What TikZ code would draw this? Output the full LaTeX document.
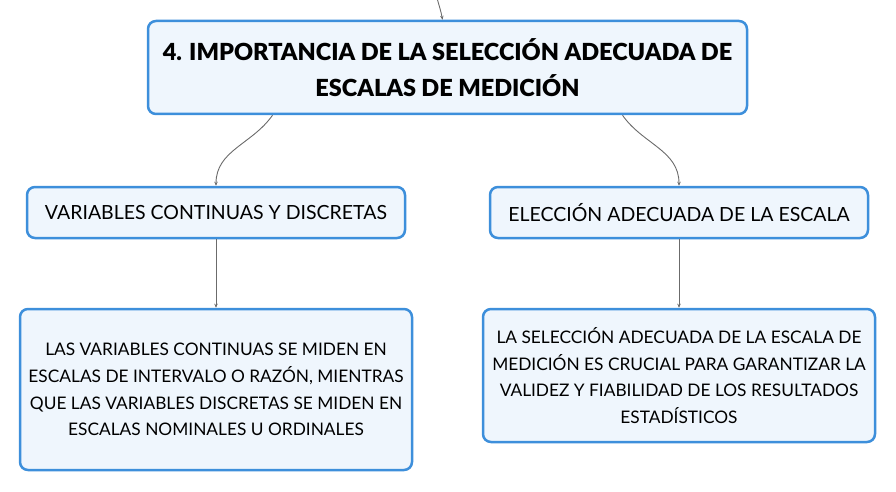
\documentclass[tikz,border=0pt]{standalone}
\usepackage{fontspec}
\setmainfont{Lato}[BoldFont=Lato Black]
\usetikzlibrary{arrows.meta}
\definecolor{boxblue}{HTML}{3D8FDB}
\definecolor{boxfill}{HTML}{EFF6FD}
\definecolor{linkgray}{HTML}{6B6B6B}
\tikzset{
  box/.style={draw=boxblue,fill=boxfill,line width=2.5pt,rounded corners=8pt,
    align=center,inner sep=0pt,font=\fontsize{17.3}{26.7}\selectfont},
  link/.style={draw=linkgray,line width=0.9pt,-{Stealth[length=4pt,width=3.5pt]}}
}
\begin{document}
\begin{tikzpicture}[x=1pt,y=1pt]
  \useasboundingbox (0,0) rectangle (896,-492);
  \node [box,minimum width=599pt,minimum height=93pt,
    font=\bfseries\fontsize{23.5}{36}\selectfont] (title) at (447.5,-67.5)
    {4. IMPORTANCIA DE LA SELECCIÓN ADECUADA DE\\ESCALAS DE MEDICIÓN};
  \node [box,minimum width=378pt,minimum height=51pt,
    font=\fontsize{19.5}{24}\selectfont] (cont) at (216,-212.5)
    {VARIABLES CONTINUAS Y DISCRETAS};
  \node [box,minimum width=378pt,minimum height=51pt,
    font=\fontsize{19.5}{24}\selectfont] (elec) at (679,-212.5)
    {ELECCIÓN ADECUADA DE LA ESCALA};
  \node [box,minimum width=392pt,minimum height=161pt] (conttext) at (216,-389.5)
    {LAS VARIABLES CONTINUAS SE MIDEN EN\\ESCALAS DE INTERVALO O RAZÓN, MIENTRAS\\
     QUE LAS VARIABLES DISCRETAS SE MIDEN EN\\ESCALAS NOMINALES U ORDINALES};
  \node [box,minimum width=392pt,minimum height=133pt] (electext) at (679,-375.5)
    {LA SELECCIÓN ADECUADA DE LA ESCALA DE\\MEDICIÓN ES CRUCIAL PARA GARANTIZAR LA\\
     VALIDEZ Y FIABILIDAD DE LOS RESULTADOS\\ESTADÍSTICOS};
  \coordinate (in) at (437,2);
  \draw [link] (in) to[out=-75,in=100] ([xshift=-5pt]title.north);
  \draw [link] ([xshift=-175pt]title.south) to[out=-125,in=90] (cont.north);
  \draw [link] ([xshift=175pt]title.south) to[out=-55,in=90] (elec.north);
  \draw [link] (cont) -- (conttext);
  \draw [link] (elec) -- (electext);
\end{tikzpicture}
\end{document}
